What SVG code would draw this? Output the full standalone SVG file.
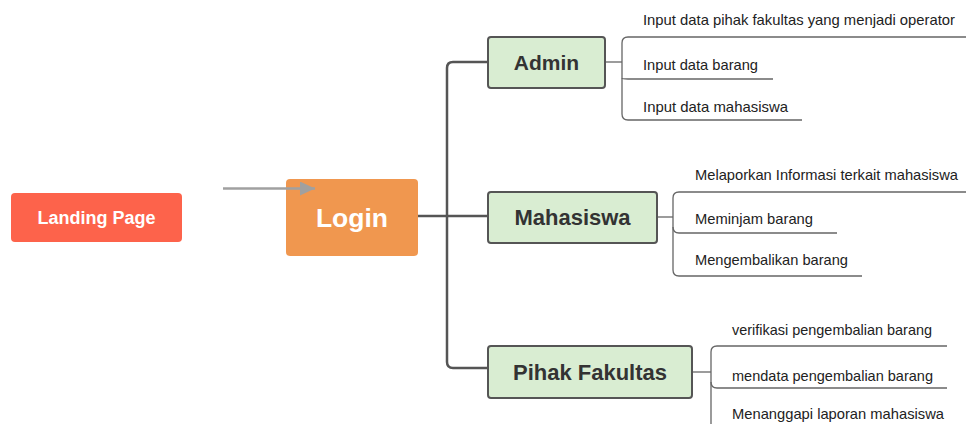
<svg xmlns="http://www.w3.org/2000/svg" width="966" height="424" viewBox="0 0 966 424">
<style>
.sub{fill:#d9edd2;stroke:#555;stroke-width:2}
.subt{font-family:"Liberation Sans",Arial,sans-serif;font-weight:bold;font-size:22px;fill:#333;text-anchor:middle}
.leaf{font-family:"Liberation Sans",Arial,sans-serif;font-size:15px;fill:#222}
.br{fill:none;stroke:#666;stroke-width:1.3}
.main{fill:none;stroke:#555;stroke-width:2.5}
</style>
<defs>
<marker id="ah" markerWidth="15" markerHeight="14" refX="15" refY="7" orient="auto" markerUnits="userSpaceOnUse">
<path d="M0,0 L15,7 L0,14 z" fill="#a0a0a0"/>
</marker>
</defs>
<g id="connectors">
<path class="main" d="M418,216 H447"/>
<path class="main" d="M488,62 H453 Q447,62 447,68 V362 Q447,368 453,368 H488"/>
<path class="main" d="M447,216 H488"/>
<path class="br" d="M605,62 H622"/>
<path class="br" d="M966,37 H628 Q622,37 622,43 V114 Q622,120 628,120 H802"/>
<path class="br" d="M622,78 Q622,79 628,79 H773"/>
<path class="br" d="M657,217 H673"/>
<path class="br" d="M966,192 H679 Q673,192 673,198 V270 Q673,276 679,276 H862"/>
<path class="br" d="M673,227 Q673,233 679,233 H837"/>
<path class="br" d="M692,372 H711"/>
<path class="br" d="M947,346 H717 Q711,346 711,352 V424"/>
<path class="br" d="M711,382 Q711,388 717,388 H947"/>
</g>
<g id="landing">
<rect x="11" y="193" width="171" height="49" rx="4" fill="#fd634b"/>
<text x="96.5" y="223.5" font-family="Liberation Sans,Arial,sans-serif" font-weight="bold" font-size="18" fill="#fff" text-anchor="middle">Landing Page</text>
</g>
<g id="login">
<rect x="286" y="179" width="132" height="77" rx="4" fill="#f0974f"/>
<text x="352" y="227" font-family="Liberation Sans,Arial,sans-serif" font-weight="bold" font-size="26.5" fill="#fff" text-anchor="middle">Login</text>
</g>
<g id="admin">
<rect class="sub" x="488" y="37" width="117" height="51" rx="3"/>
<text class="subt" x="546.5" y="70" style="font-size:21px">Admin</text>
</g>
<g id="mahasiswa">
<rect class="sub" x="488" y="192" width="169" height="51" rx="3"/>
<text class="subt" x="572.5" y="225">Mahasiswa</text>
</g>
<g id="pihak">
<rect class="sub" x="488" y="346" width="204" height="52" rx="3"/>
<text class="subt" x="590" y="380">Pihak Fakultas</text>
</g>
<g id="admin-items">
<text class="leaf" x="643" y="25" textLength="312" lengthAdjust="spacingAndGlyphs">Input data pihak fakultas yang menjadi operator</text>
<text class="leaf" x="643" y="70" textLength="115" lengthAdjust="spacingAndGlyphs">Input data barang</text>
<text class="leaf" x="643" y="112" textLength="145" lengthAdjust="spacingAndGlyphs">Input data mahasiswa</text>
</g>
<g id="mahasiswa-items">
<text class="leaf" x="695" y="180" textLength="263" lengthAdjust="spacingAndGlyphs">Melaporkan Informasi terkait mahasiswa</text>
<text class="leaf" x="695" y="224" textLength="118" lengthAdjust="spacingAndGlyphs">Meminjam barang</text>
<text class="leaf" x="695" y="265" textLength="153" lengthAdjust="spacingAndGlyphs">Mengembalikan barang</text>
</g>
<g id="pihak-items">
<text class="leaf" x="732" y="335" textLength="200" lengthAdjust="spacingAndGlyphs">verifikasi pengembalian barang</text>
<text class="leaf" x="732" y="381" textLength="201" lengthAdjust="spacingAndGlyphs">mendata pengembalian barang</text>
<text class="leaf" x="732" y="419" textLength="212" lengthAdjust="spacingAndGlyphs">Menanggapi laporan mahasiswa</text>
</g>
<g id="arrow">
<line x1="223" y1="188.5" x2="315" y2="188.5" stroke="#a0a0a0" stroke-width="2.5" marker-end="url(#ah)"/>
</g>
</svg>
